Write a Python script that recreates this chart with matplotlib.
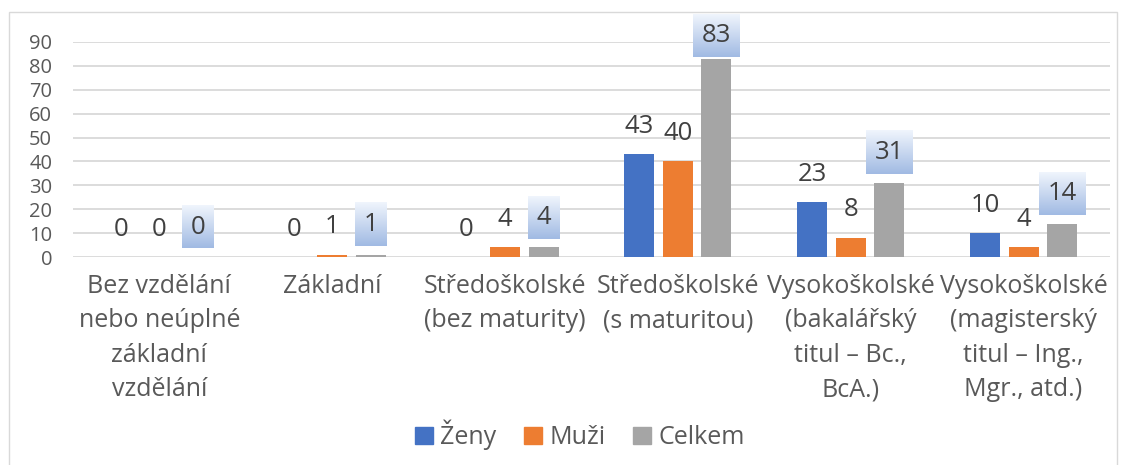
import numpy as np
import matplotlib.pyplot as plt
from matplotlib.patches import Rectangle, Patch

plt.rcParams['font.family'] = ['Open Sans', 'DejaVu Sans']

# data
categories = [
    'Bez vzdělání\nnebo neúplné\nzákladní\nvzdělání',
    'Základní',
    'Středoškolské\n(bez maturity)',
    'Středoškolské\n(s maturitou)',
    'Vysokoškolské\n(bakalářský\ntitul – Bc.,\nBcA.)',
    'Vysokoškolské\n(magisterský\ntitul – Ing.,\nMgr., atd.)',
]
zeny = [0, 0, 0, 43, 23, 10]
muzi = [0, 1, 4, 40, 8, 4]
celkem = [0, 1, 4, 83, 31, 14]
series_names = ['Ženy', 'Muži', 'Celkem']
y_ticks = list(range(0, 100, 10))

colors = ['#4472C4', '#ED7D31', '#A5A5A5']
label_color = '#404040'
axis_text = '#595959'

W, H = 1126, 465
PT = 72 / 100  # pixels -> points

fig = plt.figure(figsize=(W / 100, H / 100), dpi=100)
ax = fig.add_axes([73 / W, 1 - 257 / H, (1110 - 73) / W, (257 - 42) / H])

x = np.arange(len(categories))
offsets = [-0.223, 0.0, 0.223]
bar_w = 0.174
series = [zeny, muzi, celkem]

for vals, off, col, name in zip(series, offsets, colors, series_names):
    ax.bar(x + off, vals, width=bar_w, color=col, label=name, zorder=2)

ax.set_xlim(-0.5, len(categories) - 0.5)
ax.set_ylim(0, 90)
ax.set_yticks(y_ticks)
ax.tick_params(axis='y', length=0, pad=15, labelsize=14.5, labelcolor=axis_text)
ax.set_xticks(x, categories)
ax.tick_params(axis='x', length=0, pad=12, labelsize=18, labelcolor=axis_text)
for t in ax.get_xticklabels():
    t.set_linespacing(1.5)
ax.yaxis.grid(True, color='#D9D9D9', lw=1.3)
ax.set_axisbelow(True)
for s in ax.spines.values():
    s.set_visible(False)

# plain labels for Ženy and Muži
for vals, off in zip(series[:2], offsets[:2]):
    for xi, v in zip(x, vals):
        ax.annotate(str(v), (xi + off, v), xytext=(0, 28 * PT), textcoords='offset points',
                    ha='center', va='center', fontsize=18.5, color=label_color, zorder=4)

# Celkem labels sit in small gradient boxes
box_h = 43
inv = ax.transData.inverted()
texts = []
for xi, v in zip(x, celkem):
    xd, yd = ax.transData.transform((xi + offsets[2], v))
    cy = min(yd + 30, H - 14 - box_h / 2)
    tx, ty = inv.transform((xd, cy))
    t = ax.text(tx, ty, str(v), ha='center', va='center', fontsize=18.5,
                color=label_color, zorder=5)
    texts.append((t, xd, cy))

fig.canvas.draw()
renderer = fig.canvas.get_renderer()
grad = np.linspace(0, 1, 64)[:, None, None]
top_c = np.array([0.94, 0.96, 0.99])
bot_c = np.array([0.63, 0.73, 0.89])
img = top_c * (1 - grad) + bot_c * grad
for t, xd, cy in texts:
    bw = t.get_window_extent(renderer).width + 17
    x0, y0 = inv.transform((xd - bw / 2, cy - box_h / 2))
    x1, y1 = inv.transform((xd + bw / 2, cy + box_h / 2))
    ax.imshow(img, extent=(x0, x1, y0, y1), aspect='auto', zorder=4,
              clip_on=False, interpolation='bilinear')

ax.set_xlim(-0.5, len(categories) - 0.5)
ax.set_ylim(0, 90)

handles = [Patch(color=c, label=n) for c, n in zip(colors, series_names)]
fig.legend(handles=handles, loc='center', bbox_to_anchor=(580 / W, 1 - 435 / H), ncol=3,
           frameon=False, fontsize=18, handlelength=0.72, handleheight=0.72,
           handletextpad=0.3, columnspacing=1.1, labelcolor=axis_text)

# outer chart border
fig.patches.append(Rectangle((9 / W, -0.01), (1117 - 9) / W, (H - 12) / H + 0.01,
                             transform=fig.transFigure, fill=False,
                             edgecolor='#D9D9D9', lw=1))

fig.savefig('out.png', dpi=100)
